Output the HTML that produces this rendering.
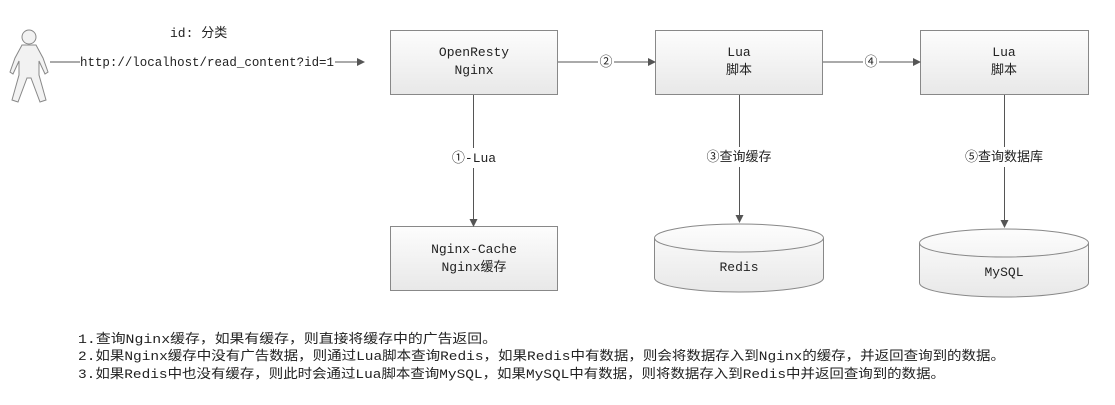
<!DOCTYPE html>
<html><head><meta charset="utf-8"><style>
body{margin:0;background:#fff;}
svg text{font-family:"Liberation Mono","Noto Sans CJK SC",monospace;font-size:13px;fill:#222;}
</style></head><body>
<svg width="1115" height="400" viewBox="0 0 1115 400" xmlns="http://www.w3.org/2000/svg">
<defs>
<linearGradient id="g" x1="0" y1="0" x2="0" y2="1"><stop offset="0" stop-color="#fdfdfd"/><stop offset="1" stop-color="#e8e8e8"/></linearGradient>
<marker id="a" markerWidth="8" markerHeight="8" refX="7" refY="4" orient="auto" markerUnits="userSpaceOnUse"><path d="M0,0 L8,4 L0,8 z" fill="#555"/></marker>
</defs>
<g fill="#f2f2f2" stroke="#888" stroke-width="1">
<circle cx="29" cy="37" r="7"/>
<path d="M22,45 L36,45 L43,58 L48,72 L45,74 L39,61 L39,75 L46,100 L40,102 L31,78 L27,78 L18,102 L12,100 L19,75 L19,61 L13,74 L10,72 L15,58 Z"/>
</g>
<text x="170" y="37">id: 分类</text>
<line x1="50" y1="62" x2="80" y2="62" stroke="#555"/>
<text x="80" y="66" textLength="254" lengthAdjust="spacingAndGlyphs">http://localhost/read_content?id=1</text>
<line x1="335" y1="62" x2="364" y2="62" stroke="#555" marker-end="url(#a)"/>
<g stroke="#888" fill="url(#g)">
<rect x="390.5" y="30.5" width="167" height="64"/>
<rect x="655.5" y="30.5" width="167" height="64"/>
<rect x="920.5" y="30.5" width="168" height="64"/>
<rect x="390.5" y="226.5" width="167" height="64"/>
</g>
<text x="474" y="56" text-anchor="middle">OpenResty</text><text x="474" y="74" text-anchor="middle">Nginx</text>
<text x="739" y="56" text-anchor="middle">Lua</text><text x="739" y="74" text-anchor="middle">脚本</text>
<text x="1004" y="56" text-anchor="middle">Lua</text><text x="1004" y="74" text-anchor="middle">脚本</text>
<text x="474" y="253" text-anchor="middle">Nginx-Cache</text><text x="474" y="271" text-anchor="middle">Nginx缓存</text>
<line x1="558" y1="62" x2="598" y2="62" stroke="#555"/>
<text x="606" y="66" text-anchor="middle">②</text>
<line x1="614" y1="62" x2="655" y2="62" stroke="#555" marker-end="url(#a)"/>
<line x1="823" y1="62" x2="863" y2="62" stroke="#555"/>
<text x="871" y="66" text-anchor="middle">④</text>
<line x1="879" y1="62" x2="920" y2="62" stroke="#555" marker-end="url(#a)"/>
<line x1="473.5" y1="95" x2="473.5" y2="148" stroke="#555"/>
<text x="474" y="162" text-anchor="middle">①-Lua</text>
<line x1="473.5" y1="168" x2="473.5" y2="226" stroke="#555" marker-end="url(#a)"/>
<line x1="739.5" y1="95" x2="739.5" y2="147" stroke="#555"/>
<text x="739" y="161" text-anchor="middle">③查询缓存</text>
<line x1="739.5" y1="167" x2="739.5" y2="222" stroke="#555" marker-end="url(#a)"/>
<line x1="1004.5" y1="95" x2="1004.5" y2="147" stroke="#555"/>
<text x="1004" y="161" text-anchor="middle">⑤查询数据库</text>
<line x1="1004.5" y1="167" x2="1004.5" y2="227" stroke="#555" marker-end="url(#a)"/>
<g stroke="#888" fill="url(#g)">
<path d="M654.5,238 A84.5,14 0 0 1 823.5,238 L823.5,278 A84.5,14 0 0 1 654.5,278 Z"/>
<path d="M654.5,238 A84.5,14 0 0 0 823.5,238" fill="none"/>
<path d="M919.5,243 A84.5,14 0 0 1 1088.5,243 L1088.5,283 A84.5,14 0 0 1 919.5,283 Z"/>
<path d="M919.5,243 A84.5,14 0 0 0 1088.5,243" fill="none"/>
</g>
<text x="739" y="271" text-anchor="middle">Redis</text>
<text x="1004" y="276" text-anchor="middle">MySQL</text>
<text x="78" y="343" textLength="419" lengthAdjust="spacingAndGlyphs">1.查询Nginx缓存，如果有缓存，则直接将缓存中的广告返回。</text>
<text x="78" y="360" textLength="927" lengthAdjust="spacingAndGlyphs">2.如果Nginx缓存中没有广告数据，则通过Lua脚本查询Redis，如果Redis中有数据，则会将数据存入到Nginx的缓存，并返回查询到的数据。</text>
<text x="78" y="378" textLength="867" lengthAdjust="spacingAndGlyphs">3.如果Redis中也没有缓存，则此时会通过Lua脚本查询MySQL，如果MySQL中有数据，则将数据存入到Redis中并返回查询到的数据。</text>
</svg>
</body></html>
